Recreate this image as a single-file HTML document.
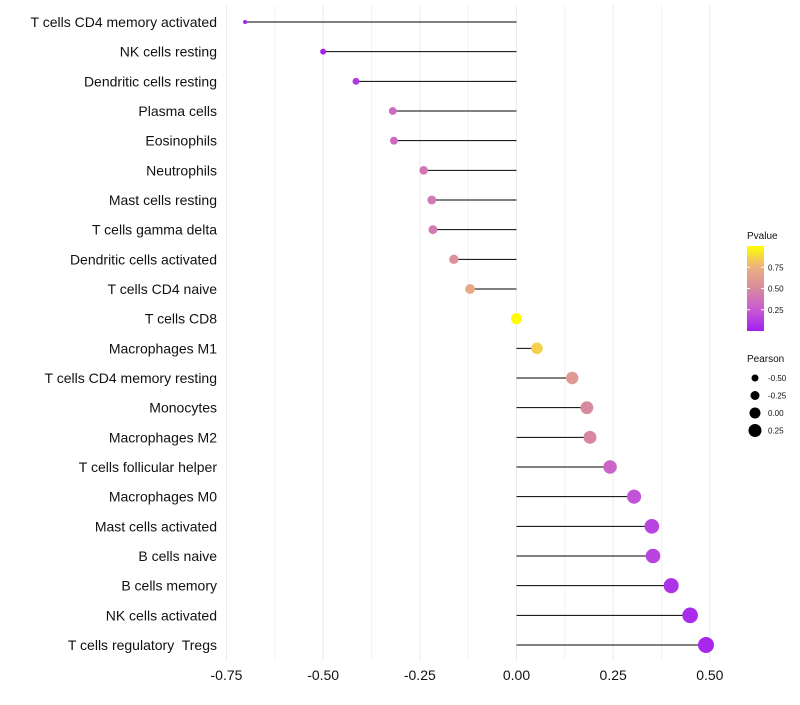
<!DOCTYPE html>
<html><head><meta charset="utf-8"><style>
body{margin:0;background:#fff;font-family:"Liberation Sans",Arial,sans-serif}
svg text{font-family:"Liberation Sans",Arial,sans-serif}
</style></head><body>
<svg id="chart" width="800" height="700" xmlns="http://www.w3.org/2000/svg">
<g id="grid"></g>
<g id="marks"></g>
<g id="ylab"></g>
<g id="xlab"></g>
<g id="legend"></g>
</svg>
<script>
const categories=["T cells CD4 memory activated","NK cells resting","Dendritic cells resting","Plasma cells","Eosinophils","Neutrophils","Mast cells resting","T cells gamma delta","Dendritic cells activated","T cells CD4 naive","T cells CD8","Macrophages M1","T cells CD4 memory resting","Monocytes","Macrophages M2","T cells follicular helper","Macrophages M0","Mast cells activated","B cells naive","B cells memory","NK cells activated","T cells regulatory\u00a0 Tregs"];
const pearson=[-0.702,-0.50,-0.415,-0.32,-0.317,-0.24,-0.219,-0.216,-0.162,-0.12,0.0,0.053,0.144,0.182,0.19,0.242,0.304,0.35,0.353,0.40,0.449,0.49];
const pvalue=[0.01,0.03,0.1,0.33,0.33,0.4,0.42,0.42,0.55,0.7,0.99,0.85,0.6,0.5,0.48,0.3,0.22,0.15,0.15,0.08,0.05,0.04];
const xTicks=[-0.75,-0.5,-0.25,0,0.25,0.5];
const xTickLabels=["-0.75","-0.50","-0.25","0.00","0.25","0.50"];
const legendP=[0.75,0.5,0.25];
const legendPLabels=["0.75","0.50","0.25"];
const legendSizes=[-0.5,-0.25,0,0.25];
const legendSizeLabels=["-0.50","-0.25","0.00","0.25"];

const NS="http://www.w3.org/2000/svg";
const x=v=>516.5+v*386.7;
const y=i=>22+i*(623/21);
const r=v=>2+(v+0.7)*5.04;
const stops=[[0,[160,32,240]],[0.25,[200,90,210]],[0.5,[216,138,160]],[0.75,[236,176,128]],[1,[255,255,0]]];
function col(p){for(let k=0;k<stops.length-1;k++){const[a,ca]=stops[k],[b,cb]=stops[k+1];if(p<=b){const t=(p-a)/(b-a);return `rgb(${ca.map((c,j)=>Math.round(c+(cb[j]-c)*t)).join(",")})`;}}return "rgb(255,255,0)";}
function el(tag,attrs,parent){const e=document.createElementNS(NS,tag);for(const k in attrs)e.setAttribute(k,attrs[k]);parent.appendChild(e);return e;}
const grid=document.getElementById("grid"),marks=document.getElementById("marks"),ylab=document.getElementById("ylab"),xlab=document.getElementById("xlab"),leg=document.getElementById("legend");
for(let v=-0.75;v<=0.51;v+=0.125){const g=el("line",{x1:x(v),x2:x(v),y1:5,y2:660,stroke:"#ebebeb","stroke-width":Math.abs(v/0.25-Math.round(v/0.25))<0.01?1:0.6},grid);

}
xTicks.forEach((v,i)=>{const t=el("text",{x:x(v),y:680,"text-anchor":"middle","font-size":"14",fill:"#111"},xlab);t.textContent=xTickLabels[i];

});
categories.forEach((c,i)=>{
const t=el("text",{x:217,y:y(i)+5,"text-anchor":"end","font-size":"14",fill:"#111"},ylab);t.textContent=c;


const l=el("line",{x1:x(0),x2:x(pearson[i]),y1:y(i),y2:y(i),stroke:"#000","stroke-width":1},marks);


const d=el("circle",{cx:x(pearson[i]),cy:y(i),r:r(pearson[i]),fill:col(pvalue[i])},marks);


});
let t=el("text",{x:747,y:239,"font-size":"10",fill:"#111"},leg);t.textContent="Pvalue";


const defs=el("defs",{},leg);const lg=el("linearGradient",{id:"pg",x1:0,y1:1,x2:0,y2:0},defs);
stops.forEach(s=>el("stop",{offset:s[0],"stop-color":col(s[0])},lg));
const bar=el("rect",{x:747,y:246,width:17,height:85,fill:"url(#pg)"},leg);


legendP.forEach((p,i)=>{const yy=331-p*85;el("line",{x1:747,x2:750,y1:yy,y2:yy,stroke:"#fff"},leg);el("line",{x1:761,x2:764,y1:yy,y2:yy,stroke:"#fff"},leg);
const tt=el("text",{x:768,y:yy+3,"font-size":"8",fill:"#111"},leg);tt.textContent=legendPLabels[i];

});
t=el("text",{x:747,y:362,"font-size":"10",fill:"#111"},leg);t.textContent="Pearson";


legendSizes.forEach((s,i)=>{const yy=378+i*17.5;const c=el("circle",{cx:755,cy:yy,r:3.5+(s+0.5)*4,fill:"#000"},leg);


const tt=el("text",{x:768,y:yy+3,"font-size":"8",fill:"#111"},leg);tt.textContent=legendSizeLabels[i];

});
</script>
</body></html>
